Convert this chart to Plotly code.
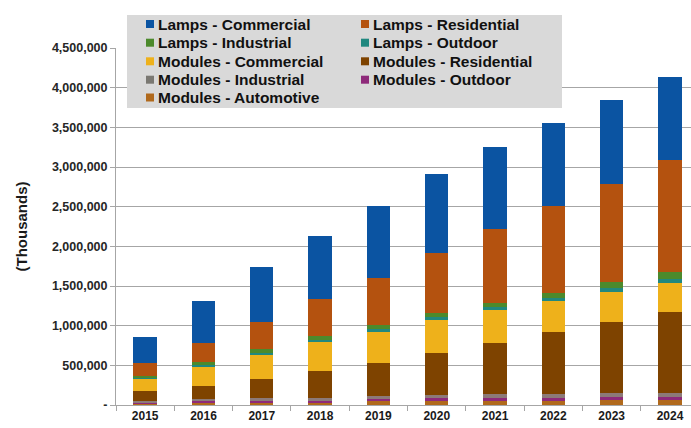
import plotly.graph_objects as go

years = ["2015", "2016", "2017", "2018", "2019", "2020", "2021", "2022", "2023", "2024"]

lamps_commercial = [327000, 525000, 693000, 797000, 911000, 987000, 1033000, 1042000, 1049000, 1049000]
lamps_residential = [168000, 243000, 348000, 466000, 588000, 756000, 924000, 1092000, 1247000, 1407000]
lamps_industrial = [19000, 38000, 40000, 50000, 53000, 58000, 58000, 66000, 74000, 90000]
lamps_outdoor = [10000, 21000, 23000, 29000, 31000, 34000, 34000, 39000, 44000, 56000]
modules_commercial = [160000, 243000, 311000, 358000, 390000, 412000, 412000, 394000, 378000, 358000]
modules_residential = [126000, 164000, 243000, 348000, 420000, 533000, 650000, 781000, 902000, 1020000]
modules_industrial = [16000, 25000, 28000, 28000, 37000, 42000, 45000, 45000, 49000, 52000]
modules_outdoor = [13000, 20000, 22000, 22000, 30000, 33000, 36000, 36000, 39000, 41000]
modules_automotive = [21000, 31000, 34000, 34000, 46000, 51000, 54000, 54000, 59000, 62000]

y_tickvals = [0, 500000, 1000000, 1500000, 2000000, 2500000, 3000000, 3500000, 4000000, 4500000]
y_ticktext = ["-", "500,000", "1,000,000", "1,500,000", "2,000,000", "2,500,000",
              "3,000,000", "3,500,000", "4,000,000", "4,500,000"]

# stacking order bottom -> top
series = [
    ("Modules - Automotive", modules_automotive, "#B0691C"),
    ("Modules - Outdoor", modules_outdoor, "#8E2A7A"),
    ("Modules - Industrial", modules_industrial, "#8C7A78"),
    ("Modules - Residential", modules_residential, "#7E4300"),
    ("Modules - Commercial", modules_commercial, "#EEB11B"),
    ("Lamps - Outdoor", lamps_outdoor, "#20887F"),
    ("Lamps - Industrial", lamps_industrial, "#4C8A2C"),
    ("Lamps - Residential", lamps_residential, "#B4520F"),
    ("Lamps - Commercial", lamps_commercial, "#0B54A2"),
]
legend_colors = {name: c for name, _, c in series}
legend_colors["Modules - Industrial"] = "#7A7872"

# legend layout: two columns, row-wise
legend_order = ["Lamps - Commercial", "Lamps - Residential",
                "Lamps - Industrial", "Lamps - Outdoor",
                "Modules - Commercial", "Modules - Residential",
                "Modules - Industrial", "Modules - Outdoor",
                "Modules - Automotive"]

fig = go.Figure()
for name, vals, color in series:
    fig.add_trace(go.Bar(
        x=years, y=vals, name=name, marker=dict(color=color, line=dict(width=0)),
        width=0.4, showlegend=False,
    ))

FONT = "Liberation Sans, Arial, sans-serif"

# plot area geometry in pixels (for placing the legend box)
W, H = 691, 428
ML, MR, MT, MB = 116, 0, 48, 23
PW = W - ML - MR
PH = H - MT - MB


def px_x(px):
    return (px - ML) / PW


def px_y(py):
    return (H - MB - py) / PH


shapes = [dict(type="rect", xref="paper", yref="paper",
               x0=px_x(127), x1=px_x(562), y0=px_y(108), y1=px_y(15),
               fillcolor="#D9D9D9", line=dict(width=0), layer="above")]
annotations = []
col_x = [146, 361]
row_y = [24, 42.7, 61.3, 79.7, 97.5]
for i, name in enumerate(legend_order):
    cx = col_x[i % 2]
    cy = row_y[i // 2]
    shapes.append(dict(type="rect", xref="paper", yref="paper",
                       x0=px_x(cx), x1=px_x(cx + 8), y0=px_y(cy + 4), y1=px_y(cy - 4),
                       fillcolor=legend_colors[name], line=dict(width=0), layer="above"))
    annotations.append(dict(text=name, xref="paper", yref="paper",
                            x=px_x(cx + 10), y=px_y(cy), xanchor="left", yanchor="middle",
                            showarrow=False,
                            font=dict(family=FONT, size=15.5, color="#111111", weight="bold")))

fig.update_layout(
    width=W, height=H,
    margin=dict(l=ML, r=MR, t=MT, b=MB),
    barmode="stack",
    plot_bgcolor="white", paper_bgcolor="white",
    font=dict(family=FONT, color="#1a1a1a"),
    showlegend=False,
    shapes=shapes,
    annotations=annotations,
    xaxis=dict(
        range=[-0.5, 9.36], type="category",
        showline=True, linecolor="#A6A6A6", linewidth=1,
        ticks="outside", tickson="boundaries", ticklen=5, tickcolor="#A6A6A6",
        tickfont=dict(family=FONT, size=12, color="#1a1a1a", weight="bold"),
        showgrid=False,
    ),
    yaxis=dict(
        range=[0, 4500000],
        tickvals=y_tickvals, ticktext=y_ticktext,
        tickfont=dict(family=FONT, size=12.5, color="#262626", weight="bold"),
        showgrid=True, gridcolor="#A6A6A6", gridwidth=1.3,
        showline=True, linecolor="#A6A6A6", linewidth=1,
        ticks="outside", ticklen=5, tickcolor="#A6A6A6",
        zeroline=False,
        title=dict(text="(Thousands)", font=dict(family=FONT, size=15, color="#1a1a1a", weight="bold"), standoff=20),
    ),
)

fig.write_html("out.html")
